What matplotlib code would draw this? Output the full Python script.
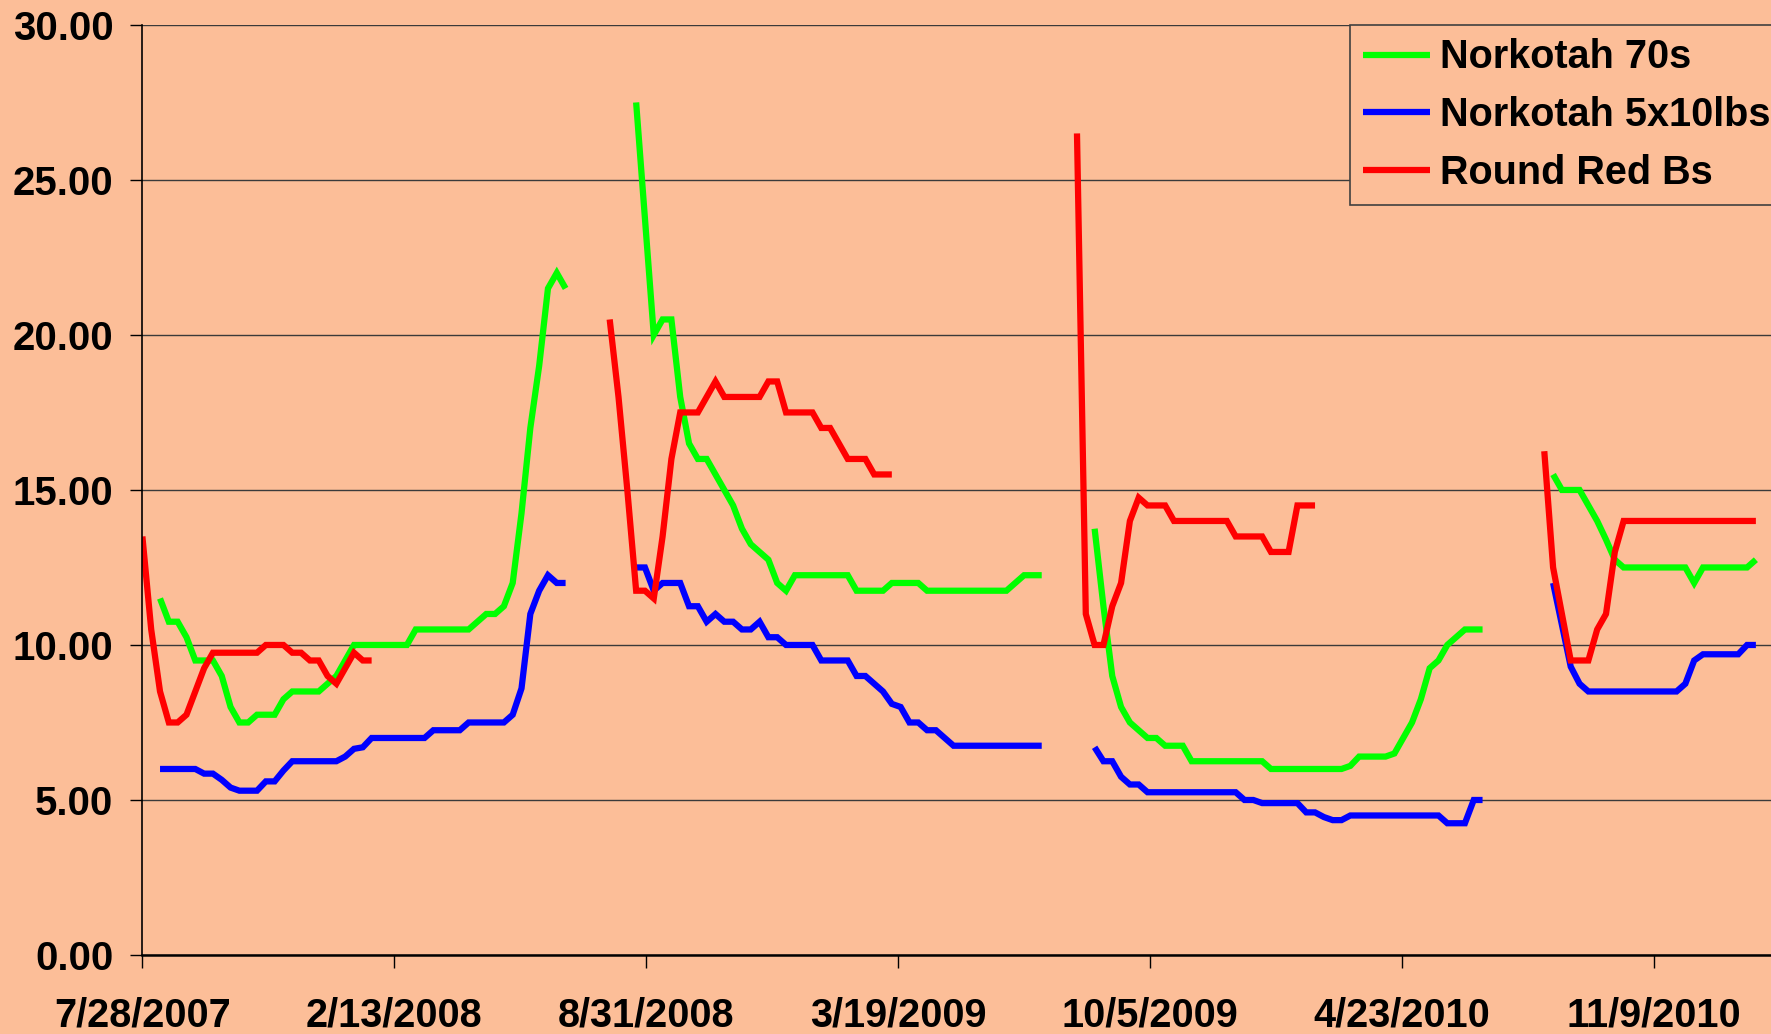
"""Norkotah / Round Red B price history, weekly, 2007-2011"""

import matplotlib
matplotlib.use("Agg")
import matplotlib.pyplot as plt
from matplotlib.font_manager import FontProperties, fontManager
import pandas as pd

BG    = "#FCBE98"
GREEN = "#00FF00"
BLUE  = "#0000FF"
RED   = "#FF0000"
GRID  = "#3A3A3A"

# weekly prices, one list per season; each season starts on its own date
start_07_red = "2007-07-28"
start_07     = "2007-08-11"
start_08_red = "2008-08-02"
start_08     = "2008-08-23"
start_09_red = "2009-08-08"
start_09     = "2009-08-22"
start_10_red = "2010-08-14"
start_10     = "2010-08-21"

norko70_07 = [11.5, 10.75, 10.75, 10.25, 9.5, 9.5, 9.5, 9.0, 8.0, 7.5, 7.5, 7.75, 7.75,
              7.75, 8.25, 8.5, 8.5, 8.5, 8.5, 8.75, 9.0, 9.5, 10.0, 10.0, 10.0, 10.0,
              10.0, 10.0, 10.0, 10.5, 10.5, 10.5, 10.5, 10.5, 10.5, 10.5, 10.75, 11.0,
              11.0, 11.25, 12.0, 14.25, 17.0, 19.0, 21.5, 22.0, 21.5]
norko70_08 = [27.5, 23.75, 20.0, 20.5, 20.5, 18.0, 16.5, 16.0, 16.0, 15.5, 15.0, 14.5,
              13.75, 13.25, 13.0, 12.75, 12.0, 11.75, 12.25, 12.25, 12.25, 12.25, 12.25,
              12.25, 12.25, 11.75, 11.75, 11.75, 11.75, 12.0, 12.0, 12.0, 12.0, 11.75,
              11.75, 11.75, 11.75, 11.75, 11.75, 11.75, 11.75, 11.75, 11.75, 12.0, 12.25,
              12.25, 12.25]
norko70_09 = [13.75, 11.25, 9.0, 8.0, 7.5, 7.25, 7.0, 7.0, 6.75, 6.75, 6.75, 6.25, 6.25,
              6.25, 6.25, 6.25, 6.25, 6.25, 6.25, 6.25, 6.0, 6.0, 6.0, 6.0, 6.0, 6.0, 6.0,
              6.0, 6.0, 6.1, 6.4, 6.4, 6.4, 6.4, 6.5, 7.0, 7.5, 8.25, 9.25, 9.5, 10.0,
              10.25, 10.5, 10.5, 10.5]
norko70_10 = [15.5, 15.0, 15.0, 15.0, 14.5, 14.0, 13.4, 12.75, 12.5, 12.5, 12.5, 12.5,
              12.5, 12.5, 12.5, 12.5, 12.0, 12.5, 12.5, 12.5, 12.5, 12.5, 12.5, 12.75]

norko5x10_07 = [6.0, 6.0, 6.0, 6.0, 6.0, 5.85, 5.85, 5.65, 5.4, 5.3, 5.3, 5.3, 5.6, 5.6,
                5.95, 6.25, 6.25, 6.25, 6.25, 6.25, 6.25, 6.4, 6.65, 6.7, 7.0, 7.0, 7.0,
                7.0, 7.0, 7.0, 7.0, 7.25, 7.25, 7.25, 7.25, 7.5, 7.5, 7.5, 7.5, 7.5, 7.75,
                8.6, 11.0, 11.75, 12.25, 12.0, 12.0]
norko5x10_08 = [12.5, 12.5, 11.75, 12.0, 12.0, 12.0, 11.25, 11.25, 10.75, 11.0, 10.75,
                10.75, 10.5, 10.5, 10.75, 10.25, 10.25, 10.0, 10.0, 10.0, 10.0, 9.5, 9.5,
                9.5, 9.5, 9.0, 9.0, 8.75, 8.5, 8.1, 8.0, 7.5, 7.5, 7.25, 7.25, 7.0, 6.75,
                6.75, 6.75, 6.75, 6.75, 6.75, 6.75, 6.75, 6.75, 6.75, 6.75]
norko5x10_09 = [6.7, 6.25, 6.25, 5.75, 5.5, 5.5, 5.25, 5.25, 5.25, 5.25, 5.25, 5.25, 5.25,
                5.25, 5.25, 5.25, 5.25, 5.0, 5.0, 4.9, 4.9, 4.9, 4.9, 4.9, 4.6, 4.6, 4.45,
                4.35, 4.35, 4.5, 4.5, 4.5, 4.5, 4.5, 4.5, 4.5, 4.5, 4.5, 4.5, 4.5, 4.25,
                4.25, 4.25, 5.0, 5.0]
norko5x10_10 = [12.0, 10.65, 9.3, 8.75, 8.5, 8.5, 8.5, 8.5, 8.5, 8.5, 8.5, 8.5, 8.5, 8.5,
                8.5, 8.75, 9.5, 9.7, 9.7, 9.7, 9.7, 9.7, 10.0, 10.0]

redb_07 = [13.5, 10.5, 8.5, 7.5, 7.5, 7.75, 8.5, 9.25, 9.75, 9.75, 9.75, 9.75, 9.75, 9.75,
           10.0, 10.0, 10.0, 9.75, 9.75, 9.5, 9.5, 9.0, 8.75, 9.25, 9.75, 9.5, 9.5]
redb_08 = [20.5, 18.0, 15.0, 11.75, 11.75, 11.5, 13.5, 16.0, 17.5, 17.5, 17.5, 18.0, 18.5,
           18.0, 18.0, 18.0, 18.0, 18.0, 18.5, 18.5, 17.5, 17.5, 17.5, 17.5, 17.0, 17.0,
           16.5, 16.0, 16.0, 16.0, 15.5, 15.5, 15.5]
redb_09 = [26.5, 11.0, 10.0, 10.0, 11.25, 12.0, 14.0, 14.75, 14.5, 14.5, 14.5, 14.0, 14.0,
           14.0, 14.0, 14.0, 14.0, 14.0, 13.5, 13.5, 13.5, 13.5, 13.0, 13.0, 13.0, 14.5,
           14.5, 14.5]
redb_10 = [16.25, 12.5, 11.0, 9.5, 9.5, 9.5, 10.5, 11.0, 13.0, 14.0, 14.0, 14.0, 14.0,
           14.0, 14.0, 14.0, 14.0, 14.0, 14.0, 14.0, 14.0, 14.0, 14.0, 14.0, 14.0]

AXIS_START = "2007-07-28"
AXIS_DAYS  = 1293
TICK_STEP  = "200D"

names = {f.name for f in fontManager.ttflist}
NARROW = "Liberation Sans Narrow" if "Liberation Sans Narrow" in names else "Liberation Sans"
XSIZE  = 34.5 if NARROW == "Liberation Sans Narrow" else 28.5

YFONT   = FontProperties(family="Liberation Sans", weight="bold", size=29)
XFONT   = FontProperties(family=NARROW, weight="bold", size=XSIZE)
LEGFONT = FontProperties(family="Liberation Sans", weight="bold", size=28.5)


def weekly(segments):
    full = pd.date_range(AXIS_START, periods=190, freq="7D")
    parts = [pd.Series(v, index=pd.date_range(s, periods=len(v), freq="7D"))
             for s, v in segments]
    return pd.concat(parts).reindex(full)


series = [
    ("Norkotah 70s", GREEN, weekly([(start_07, norko70_07), (start_08, norko70_08),
                                    (start_09, norko70_09), (start_10, norko70_10)])),
    ("Norkotah 5x10lbs", BLUE, weekly([(start_07, norko5x10_07), (start_08, norko5x10_08),
                                       (start_09, norko5x10_09), (start_10, norko5x10_10)])),
    ("Round Red Bs", RED, weekly([(start_07_red, redb_07), (start_08_red, redb_08),
                                  (start_09_red, redb_09), (start_10_red, redb_10)])),
]

fig = plt.figure(figsize=(17.71, 10.34), dpi=100)
fig.patch.set_facecolor(BG)
ax = fig.add_axes([0.0804, 0.0764, 0.9196, 0.8995])
ax.set_facecolor(BG)

for label, color, s in series:
    ax.plot(s.index, s.values, color=color, lw=4.5, label=label,
            solid_joinstyle="miter", solid_capstyle="butt")

x0 = pd.Timestamp(AXIS_START)
ax.set_xlim(x0, x0 + pd.Timedelta(days=AXIS_DAYS))
ax.set_ylim(0, 30)

ax.set_yticks([0, 5, 10, 15, 20, 25, 30])
ax.set_yticklabels([f"{v:.2f}" for v in [0, 5, 10, 15, 20, 25, 30]], fontproperties=YFONT)
ticks = pd.date_range(AXIS_START, periods=7, freq=TICK_STEP)
ax.set_xticks(ticks)
ax.set_xticklabels([f"{d.month}/{d.day}/{d.year}" for d in ticks], fontproperties=XFONT)

ax.grid(axis="y", color=GRID, lw=1.0)
ax.set_axisbelow(True)
for side in ("top", "right"):
    ax.spines[side].set_visible(False)
ax.spines["left"].set_linewidth(1.2)
ax.spines["bottom"].set_linewidth(1.8)
ax.tick_params(axis="y", direction="out", length=9, width=1.0, pad=12, colors="black")
ax.tick_params(axis="x", direction="out", length=9, width=1.0, pad=21, colors="black")

leg = ax.legend(loc="upper left", bbox_to_anchor=(0.7415, 1.0), borderaxespad=0,
                prop=LEGFONT, handlelength=1.68, handletextpad=0.25, borderpad=0.34,
                labelspacing=0.5, fancybox=False, framealpha=1)
leg.get_frame().set_facecolor(BG)
leg.get_frame().set_edgecolor("#404040")
leg.get_frame().set_linewidth(1.2)

fig.savefig("out.png", dpi=100, facecolor=BG)
